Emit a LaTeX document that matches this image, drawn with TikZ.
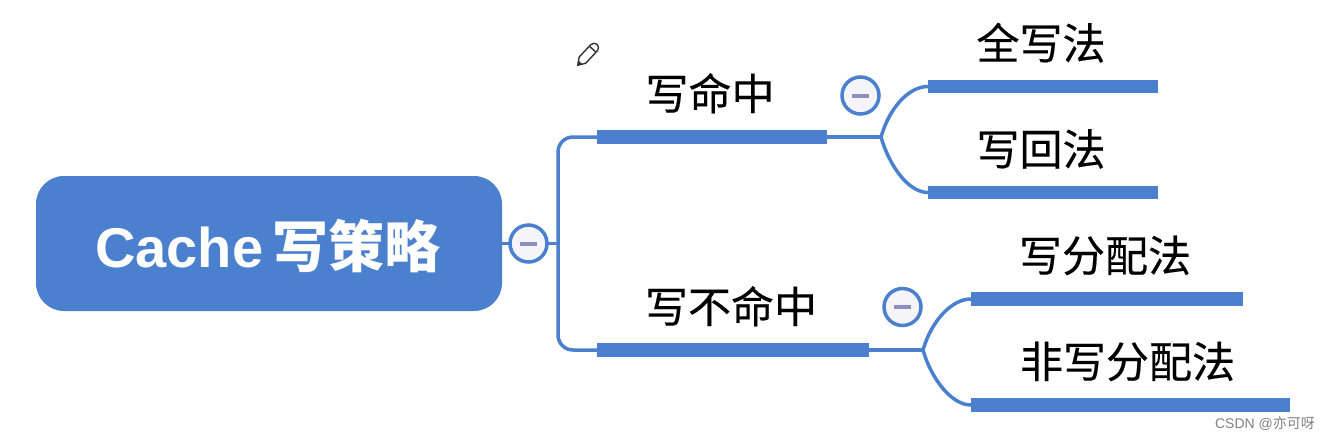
\documentclass[tikz,border=0pt]{standalone}
\usepackage{fontspec}
\setmainfont{Noto Sans CJK SC}
\newfontfamily\latinfont{Liberation Sans}
\usetikzlibrary{positioning, backgrounds}
\definecolor{mapblue}{HTML}{4A80CE}
\definecolor{minusblue}{HTML}{8C8FBF}
\definecolor{togglefill}{HTML}{F4F4F9}

\begin{document}
\begin{tikzpicture}[
    x=1pt, y=-1pt,
    outer sep=0pt,
    root/.style={rectangle, rounded corners=28pt, fill=mapblue, minimum width=466pt, minimum height=135pt, inner sep=0pt},
    title/.style={text=white, font=\fontsize{56}{64}\selectfont\bfseries, inner sep=0pt},
    bar/.style={rectangle, fill=mapblue, minimum height=13.5pt, inner sep=0pt},
    topic/.style={font=\fontsize{43}{50}\selectfont\addfontfeature{FakeBold=0.3}, inner sep=0pt, text=black},
    toggle/.style={circle, draw=mapblue, line width=3.5pt, fill=togglefill, minimum size=37pt, inner sep=0pt},
    minus/.style={fill=minusblue, minimum width=17pt, minimum height=4pt, inner sep=0pt},
    link/.style={draw=mapblue, line width=3.5pt},
    pencil/.style={draw=black!80, line width=1.4pt, fill=white, line join=round},
]
    \useasboundingbox (0,0) rectangle (1330,440);

%% NODES
    % central topic
    \node[root] (cache) at (269,243.5) {};
    \node[title, yshift=-2.5pt, xshift=-1pt] (cache_title) at (cache) {{\latinfont Cache}\,写策略};
    \node[toggle, right=8pt of cache] (toggle_root) {};
    \node[minus] at (toggle_root) (minus_root) {};
    \coordinate[right=56pt of cache.east] (spine);

    % write hit
    \node[bar, minimum width=230pt, right=95pt of cache.east, yshift=106.5pt] (bar_hit) {};
    \node[topic, above=17pt of bar_hit, xshift=-2pt] (label_hit) {写命中};
    \coordinate[right=54pt of bar_hit.east] (fork_hit);
    \node[toggle] (toggle_hit) at (860.5,95.5) {};
    \node[minus] at (toggle_hit) (minus_hit) {};

    % write miss
    \node[bar, minimum width=272pt, right=95pt of cache.east, yshift=-106.5pt] (bar_miss) {};
    \node[topic, above=17pt of bar_miss, xshift=-2pt] (label_miss) {写不命中};
    \coordinate[right=54pt of bar_miss.east] (fork_miss);
    \node[toggle] (toggle_miss) at (902.5,307) {};
    \node[minus] at (toggle_miss) (minus_miss) {};

    % hit policies
    \node[bar, minimum width=230pt, right=47pt of fork_hit, yshift=50.5pt] (bar_through) {};
    \node[topic, above=17pt of bar_through, xshift=-2pt] (label_through) {全写法};
    \node[bar, minimum width=230pt, right=47pt of fork_hit, yshift=-55.5pt] (bar_back) {};
    \node[topic, above=17pt of bar_back, xshift=-2pt] (label_back) {写回法};

    % miss policies
    \node[bar, minimum width=272pt, right=48pt of fork_miss, yshift=51pt] (bar_alloc) {};
    \node[topic, above=17pt of bar_alloc, xshift=-2pt] (label_alloc) {写分配法};
    \node[bar, minimum width=319pt, right=48pt of fork_miss, yshift=-55pt] (bar_noalloc) {};
    \node[topic, above=17pt of bar_noalloc, xshift=-3pt] (label_noalloc) {非写分配法};

    % watermark
    \node[font=\fontsize{14}{16}\selectfont, text=black!50, inner sep=0pt] (mark) at (1265,424) {{\latinfont CSDN @}亦可呀};

%% CONNECTIONS
    \begin{scope}[on background layer]
    % cache -> spine
    \draw[link] (cache.east) -- (spine);
    \draw[link, rounded corners=15pt] (bar_hit.west) -| (spine) |- (bar_miss.west);

    % hit -> policies
    \draw[link] (bar_hit.east) -- (fork_hit);
    \draw[link] (fork_hit) .. controls +(8,-28) and +(-20,0) .. (bar_through.west);
    \draw[link] (fork_hit) .. controls +(8,28) and +(-20,0) .. (bar_back.west);

    % miss -> policies
    \draw[link] (bar_miss.east) -- (fork_miss);
    \draw[link] (fork_miss) .. controls +(8,-28) and +(-20,0) .. (bar_alloc.west);
    \draw[link] (fork_miss) .. controls +(8,28) and +(-20,0) .. (bar_noalloc.west);
    \end{scope}

    % pencil mark
    \begin{scope}[shift={(577,66)}, rotate=47]
    \draw[pencil] (1,0) -- (8,-4.5) -- (25,-4.5) arc[start angle=-90, end angle=90, radius=4.5] -- (8,4.5) -- cycle;
    \draw[pencil] (23,-4.5) -- (23,4.5);
    \fill[black!80] (1,0) -- (5,-2.5) -- (5,2.5) -- cycle;
    \end{scope}

\end{tikzpicture}
\end{document}
